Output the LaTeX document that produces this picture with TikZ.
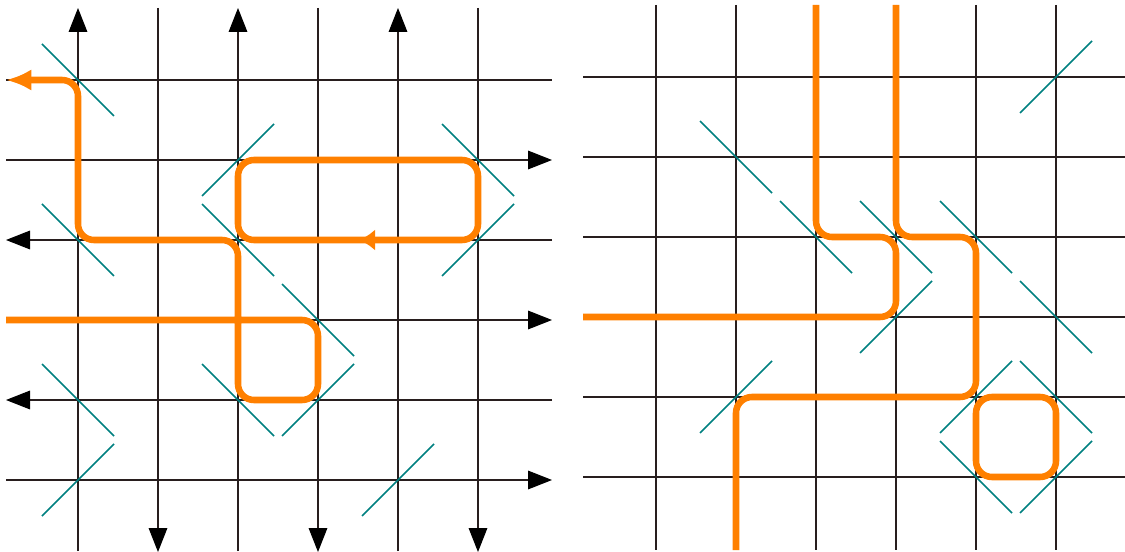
\documentclass[tikz,border=0pt]{standalone}
\usetikzlibrary{arrows.meta}
\definecolor{gridc}{RGB}{40,30,30}
\definecolor{mirror}{RGB}{0,128,128}
\definecolor{beam}{RGB}{255,128,0}
\tikzset{
  gridline/.style={draw=gridc, line width=0.8pt},
  gridarrow/.style={-{Triangle[length=18pt,width=14pt,color=black]}},
  mirrorline/.style={draw=mirror, line width=1.1pt},
  beampath/.style={draw=beam, line width=4.9pt, rounded corners=12pt},
  beamend/.style={-{Latex[length=19pt,width=16pt]}},
  beammid/.style={draw=beam, line width=4.9pt, -{Latex[length=12pt,width=16pt]}},
}
\begin{document}
\begin{tikzpicture}[x=0.75pt,y=-0.75pt]
\useasboundingbox (0,0) rectangle (1125,552);

% ---------------- left panel grid ----------------
\draw[gridline,gridarrow] (78,551) -- (78,8);
\draw[gridline,gridarrow] (158,8) -- (158,552);
\draw[gridline,gridarrow] (238,551) -- (238,8);
\draw[gridline,gridarrow] (318,8) -- (318,552);
\draw[gridline,gridarrow] (398,551) -- (398,8);
\draw[gridline,gridarrow] (478,8) -- (478,552);
\draw[gridline] (6,80) -- (552,80);
\draw[gridline,gridarrow] (6,160) -- (552,160);
\draw[gridline,gridarrow] (552,240) -- (6,240);
\draw[gridline,gridarrow] (6,320) -- (552,320);
\draw[gridline,gridarrow] (552,400) -- (6,400);
\draw[gridline,gridarrow] (6,480) -- (552,480);

% ---------------- right panel grid ----------------
\foreach \x in {656,736,816,896,976,1056}
  \draw[gridline] (\x,5) -- (\x,550);
\foreach \y in {77,157,237,317,397,477}
  \draw[gridline] (583,\y) -- (1125,\y);

% ---------------- orange paths, left ----------------
\draw[beampath,beamend] (6,320) -- (318,320) -- (318,400) -- (238,400)
  -- (238,240) -- (78,240) -- (78,80) -- (6,80);
\draw[beampath] (238,160) rectangle (478,240);
\draw[beammid] (388,240) -- (359,240);

% ---------------- orange paths, right ----------------
\draw[beampath] (816,5) -- (816,237) -- (896,237) -- (896,317) -- (583,317);
\draw[beampath] (896,5) -- (896,237) -- (976,237) -- (976,397) -- (736,397) -- (736,550);
\draw[beampath] (976,397) rectangle (1056,477);

% ---------------- mirrors ----------------
% "\" direction
\foreach \x/\y in {78/80,238/240,478/160,78/240,318/320,78/400,238/400,
                   736/157,816/237,896/237,976/237,1056/317,1056/397,976/477}
  \draw[mirrorline] (\x-36,\y-36) -- (\x+36,\y+36);
% "/" direction
\foreach \x/\y in {238/160,478/240,318/400,78/480,398/480,
                   1056/77,896/317,736/397,976/397,1056/477}
  \draw[mirrorline] (\x-36,\y+36) -- (\x+36,\y-36);
\end{tikzpicture}
\end{document}
